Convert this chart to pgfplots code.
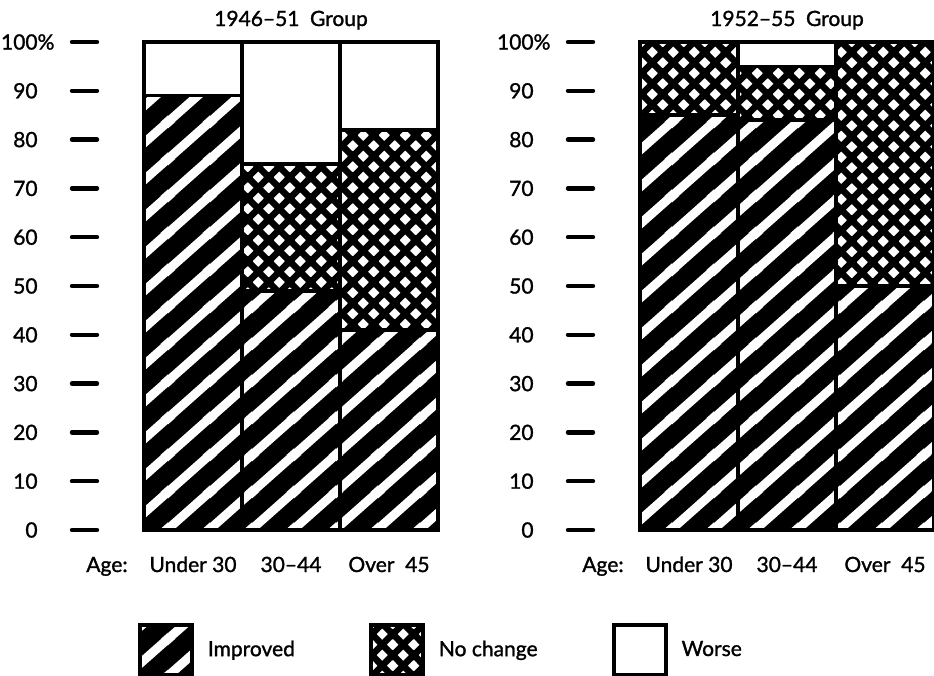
\documentclass[border=0pt]{standalone}
\usepackage{fontspec}
\setmainfont{Lato}[RawFeature={embolden=1.3}]
\usepackage{pgfplots}
\pgfplotsset{compat=1.18}
\usetikzlibrary{patterns}

% diagonal stripes (drawn in pattern colour over a fill)
\pgfdeclarepatternformonly{stripesw}{\pgfqpoint{0pt}{0pt}}{\pgfqpoint{21pt}{18.35pt}}{\pgfqpoint{21pt}{18.35pt}}{%
  \pgfsetlinewidth{4.5pt}%
  \pgfpathmoveto{\pgfqpoint{-21pt}{-18.35pt}}\pgfpathlineto{\pgfqpoint{42pt}{36.7pt}}%
  \pgfpathmoveto{\pgfqpoint{-21pt}{0pt}}\pgfpathlineto{\pgfqpoint{21pt}{36.7pt}}%
  \pgfpathmoveto{\pgfqpoint{0pt}{-18.35pt}}\pgfpathlineto{\pgfqpoint{42pt}{18.35pt}}%
  \pgfusepath{stroke}}
% cross hatch
\pgfdeclarepatternformonly{xhatch}{\pgfqpoint{0pt}{0pt}}{\pgfqpoint{10.35pt}{10.35pt}}{\pgfqpoint{10.35pt}{10.35pt}}{%
  \pgfsetlinewidth{3.3pt}%
  \pgfpathmoveto{\pgfqpoint{-10.35pt}{-10.35pt}}\pgfpathlineto{\pgfqpoint{20.7pt}{20.7pt}}%
  \pgfpathmoveto{\pgfqpoint{-10.35pt}{0pt}}\pgfpathlineto{\pgfqpoint{10.35pt}{20.7pt}}%
  \pgfpathmoveto{\pgfqpoint{0pt}{-10.35pt}}\pgfpathlineto{\pgfqpoint{20.7pt}{10.35pt}}%
  \pgfpathmoveto{\pgfqpoint{-10.35pt}{10.35pt}}\pgfpathlineto{\pgfqpoint{10.35pt}{-10.35pt}}%
  \pgfpathmoveto{\pgfqpoint{-10.35pt}{20.7pt}}\pgfpathlineto{\pgfqpoint{20.7pt}{-10.35pt}}%
  \pgfpathmoveto{\pgfqpoint{0pt}{20.7pt}}\pgfpathlineto{\pgfqpoint{20.7pt}{0pt}}%
  \pgfusepath{stroke}}

\pgfplotsset{
  panel/.style={
    scale only axis, width=170.5pt, height=244pt,
    ymin=0, ymax=100, xmin=-0.98, xmax=2.5,
    ybar stacked, bar width=1,
    axis x line*=bottom, axis y line*=left,
    axis line style={draw=none},
    clip=false,
    ytick={0,10,...,100},
    yticklabels={0,10,20,30,40,50,60,70,80,90,100\rlap{\%}},
    tick align=outside,
    major tick length=12.5pt,
    ytick style={line width=2.2pt, black, line cap=round},
    yticklabel style={anchor=east, inner sep=0pt, xshift=-17pt},
    xtick={0,1,2},
    xticklabels={Under 30,30--44,Over\ \ 45},
    xtick style={draw=none},
    xticklabel style={anchor=base, inner sep=0pt, yshift=-8.5pt},
    tick label style={font=\fontsize{10.5}{12}\selectfont},
  },
  impr/.style={draw=black, line width=1.7pt, preaction={fill=black}, pattern=stripesw, pattern color=white,
    legend image code/.code={\draw[##1, line width=2pt] (0pt,-12.5pt) rectangle (26pt,12.5pt);}},
  nochg/.style={draw=black, line width=1.7pt, preaction={fill=white}, pattern=xhatch, pattern color=black,
    legend image code/.code={\draw[##1, line width=2pt] (0pt,-12.5pt) rectangle (26pt,12.5pt);}},
  worse/.style={draw=black, line width=1.7pt, fill=white,
    legend image code/.code={\draw[##1, line width=2pt] (0pt,-12.5pt) rectangle (26pt,12.5pt);}},
}

\begin{document}
\fontsize{10.5}{12}\selectfont
\begin{tikzpicture}[every node/.append style={font=\fontsize{10.5}{12}\selectfont}]
\useasboundingbox (0,0) rectangle (467pt,338pt);
\begin{axis}[panel, at={(48.5pt,73pt)}, anchor=south west,
  legend columns=-1,
  legend style={at={(0.12,-0.246)}, anchor=west, draw=none, fill=none,
    inner sep=0pt, outer sep=0pt, font=\fontsize{10.5}{12}\selectfont,
    /tikz/every odd column/.style={column sep=7pt},
    /tikz/every even column/.style={column sep=37pt},
    nodes={inner sep=0pt, anchor=west}},
]
\addplot[impr] coordinates {(0,89) (1,49) (2,41)};
\addplot[nochg] coordinates {(0,0) (1,26) (2,41)};
\addplot[worse] coordinates {(0,11) (1,25) (2,18)};
\legend{Improved,No change,Worse}
\node[anchor=base] at (axis cs:1,100) [yshift=8pt] {1946--51\enspace Group};
\node[anchor=base east] at (axis cs:-0.5,0) [yshift=-21pt, xshift=-4.5pt] {Age:};
\end{axis}
\begin{axis}[panel, at={(296.5pt,73pt)}, anchor=south west]
\addplot[impr] coordinates {(0,85) (1,84) (2,50)};
\addplot[nochg] coordinates {(0,15) (1,11) (2,50)};
\addplot[worse] coordinates {(0,0) (1,5) (2,0)};
\node[anchor=base] at (axis cs:1,100) [yshift=8pt] {1952--55\enspace Group};
\node[anchor=base east] at (axis cs:-0.5,0) [yshift=-21pt, xshift=-4.5pt] {Age:};
\end{axis}
\end{tikzpicture}
\end{document}
